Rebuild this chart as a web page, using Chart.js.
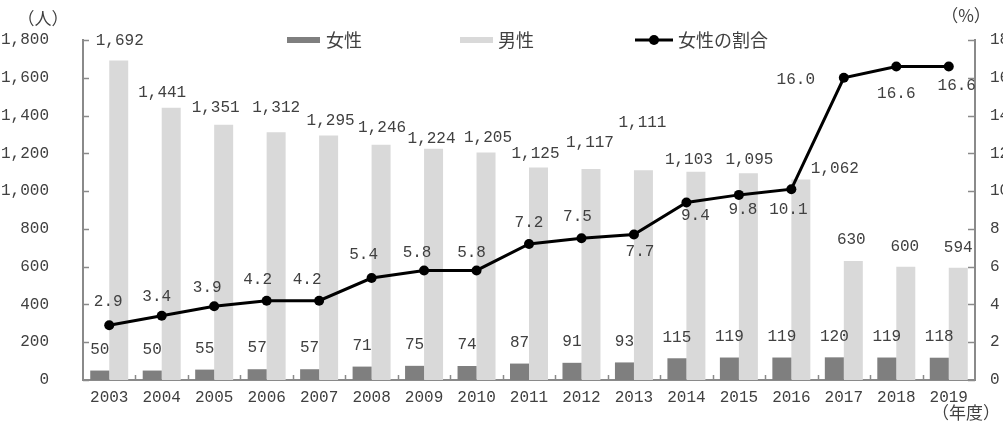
<!DOCTYPE html>
<html lang="ja">
<head>
<meta charset="utf-8">
<title>女性の割合</title>
<script src="https://cdn.jsdelivr.net/npm/chart.js@4/dist/chart.umd.min.js"></script>
<style>
  html, body { margin: 0; padding: 0; background: #fff; overflow: hidden; }
  #wrap { width: 1003px; height: 432px; position: relative; }
</style>
</head>
<body>
<div id="wrap"><canvas id="chart"></canvas></div>
<script>
// 年度ごとの人数と女性の割合
const years = ['2003', '2004', '2005', '2006', '2007', '2008', '2009', '2010', '2011',
  '2012', '2013', '2014', '2015', '2016', '2017', '2018', '2019'];
const women = [50, 50, 55, 57, 57, 71, 75, 74, 87, 91, 93, 115, 119, 119, 120, 119, 118];
const men = [1692, 1441, 1351, 1312, 1295, 1246, 1224, 1205, 1125, 1117, 1111, 1103, 1095, 1062, 630, 600, 594];
const womenShare = [2.9, 3.4, 3.9, 4.2, 4.2, 5.4, 5.8, 5.8, 7.2, 7.5, 7.7, 9.4, 9.8, 10.1, 16.0, 16.6, 16.6];

const peopleMax = 1800, peopleStep = 200;
const shareMax = 18, shareStep = 2;

const textColor = '#404040';
const axisColor = '#8a8a8a';
const numFont = '"Liberation Mono", "DejaVu Sans Mono", monospace';
const jpFont = '"Noto Sans CJK JP", sans-serif';

// label nudges [dx, dy] from the top centre of each bar / each point
const menLabelShift = [[1, -20], [-9, -15], [-8, -17], [0, -24], [2, -15], [1, -17], [-2, -10], [2, -15],
  [-3, -14], [-1, -26], [-1, -47], [-7, -12], [1, -13], [34, -11], [-2, -21], [-1, -20], [0, -20]];
const shareLabelShift = [[-1, -23], [-5, -19], [-7, -19], [-9, -21], [-12, -21], [-8, -23], [-7, -18], [-5, -18],
  [0, -21], [-4, -22], [6, 17], [9, 13], [4, 15], [-3, 21], [-48, 2], [0, 27], [8, 19]];

const fmt = v => v.toLocaleString('en-US');

// value labels, inner tick marks, axis unit captions and the legend
const decorations = {
  id: 'decorations',
  afterDraw(chart) {
    const ctx = chart.ctx;
    const area = chart.chartArea;
    const yL = chart.scales.y, yR = chart.scales.y1;
    ctx.save();

    // tick marks pointing into the plot
    ctx.strokeStyle = axisColor;
    ctx.lineWidth = 1.5;
    ctx.beginPath();
    for (let v = 0; v <= peopleMax; v += peopleStep) {
      const py = Math.round(yL.getPixelForValue(v)) + 0.5;
      ctx.moveTo(area.left, py); ctx.lineTo(area.left + 6, py);
    }
    for (let v = 0; v <= shareMax; v += shareStep) {
      const py = Math.round(yR.getPixelForValue(v)) + 0.5;
      ctx.moveTo(area.right - 7, py); ctx.lineTo(area.right, py);
    }
    const step = (area.right - area.left) / years.length;
    for (let i = 1; i < years.length; i++) {
      const px = Math.round(area.left + step * i) + 0.5;
      ctx.moveTo(px, area.bottom); ctx.lineTo(px, area.bottom - 5);
    }
    ctx.stroke();

    // data labels
    ctx.fillStyle = textColor;
    ctx.font = '16px ' + numFont;
    ctx.textAlign = 'center';
    ctx.textBaseline = 'middle';
    chart.getDatasetMeta(0).data.forEach((bar, i) => {
      ctx.fillText(fmt(women[i]), bar.x, bar.y - 21);
    });
    chart.getDatasetMeta(1).data.forEach((bar, i) => {
      const [dx, dy] = menLabelShift[i];
      ctx.fillText(fmt(men[i]), bar.x + dx, bar.y + dy);
    });
    chart.getDatasetMeta(2).data.forEach((pt, i) => {
      const [dx, dy] = shareLabelShift[i];
      ctx.fillText(womenShare[i].toFixed(1), pt.x + dx, pt.y + dy);
    });

    // unit captions
    ctx.font = '17px ' + jpFont;
    ctx.fillText('（人）', 43, 19);
    ctx.fillText('（%）', 966, 16);
    ctx.fillText('（年度）', 966, 413);

    // legend
    const ly = 40;
    ctx.font = '18px ' + jpFont;
    ctx.textAlign = 'left';
    ctx.fillStyle = '#7f7f7f';
    ctx.fillRect(287, ly - 3, 33, 6);
    ctx.fillStyle = '#d9d9d9';
    ctx.fillRect(460, ly - 3, 33, 6);
    ctx.strokeStyle = '#000';
    ctx.lineWidth = 3;
    ctx.beginPath(); ctx.moveTo(635, ly); ctx.lineTo(673, ly); ctx.stroke();
    ctx.fillStyle = '#000';
    ctx.beginPath(); ctx.arc(654, ly, 5, 0, Math.PI * 2); ctx.fill();
    ctx.fillStyle = textColor;
    ctx.fillText('女性', 326, ly);
    ctx.fillText('男性', 498, ly);
    ctx.fillText('女性の割合', 678, ly);

    ctx.restore();
  }
};

new Chart(document.getElementById('chart'), {
  data: {
    labels: years,
    datasets: [
      {
        type: 'bar', label: '女性', data: women, yAxisID: 'y',
        backgroundColor: '#7f7f7f', order: 2,
        categoryPercentage: 0.724, barPercentage: 1.0
      },
      {
        type: 'bar', label: '男性', data: men, yAxisID: 'y',
        backgroundColor: '#d9d9d9', order: 2,
        categoryPercentage: 0.724, barPercentage: 1.0
      },
      {
        type: 'line', label: '女性の割合', data: womenShare, yAxisID: 'y1',
        borderColor: '#000', borderWidth: 3, backgroundColor: '#000',
        pointRadius: 5, pointBackgroundColor: '#000', pointBorderWidth: 0,
        tension: 0, order: 1
      }
    ]
  },
  options: {
    responsive: true,
    maintainAspectRatio: false,
    animation: false,
    layout: { padding: { top: 40, right: 0, bottom: 0, left: 0 } },
    plugins: {
      legend: { display: false },
      tooltip: { enabled: false }
    },
    scales: {
      x: {
        offset: true,
        grid: { display: false },
        border: { color: axisColor, width: 2 },
        ticks: { color: textColor, font: { family: numFont, size: 16 }, padding: 0, maxRotation: 0 },
        afterFit(scale) { scale.height = 52; }
      },
      y: {
        position: 'left',
        min: 0, max: peopleMax,
        grid: { display: false },
        border: { color: axisColor, width: 2 },
        ticks: {
          stepSize: peopleStep, color: textColor, padding: 26,
          font: { family: numFont, size: 16 },
          callback: v => fmt(v)
        },
        afterFit(scale) { scale.width = 83; }
      },
      y1: {
        position: 'right',
        min: 0, max: shareMax,
        grid: { display: false },
        border: { color: axisColor, width: 2 },
        ticks: {
          stepSize: shareStep, color: textColor, padding: 7,
          font: { family: numFont, size: 16 }
        },
        afterFit(scale) { scale.width = 28; }
      }
    }
  },
  plugins: [decorations]
});
</script>
</body>
</html>
